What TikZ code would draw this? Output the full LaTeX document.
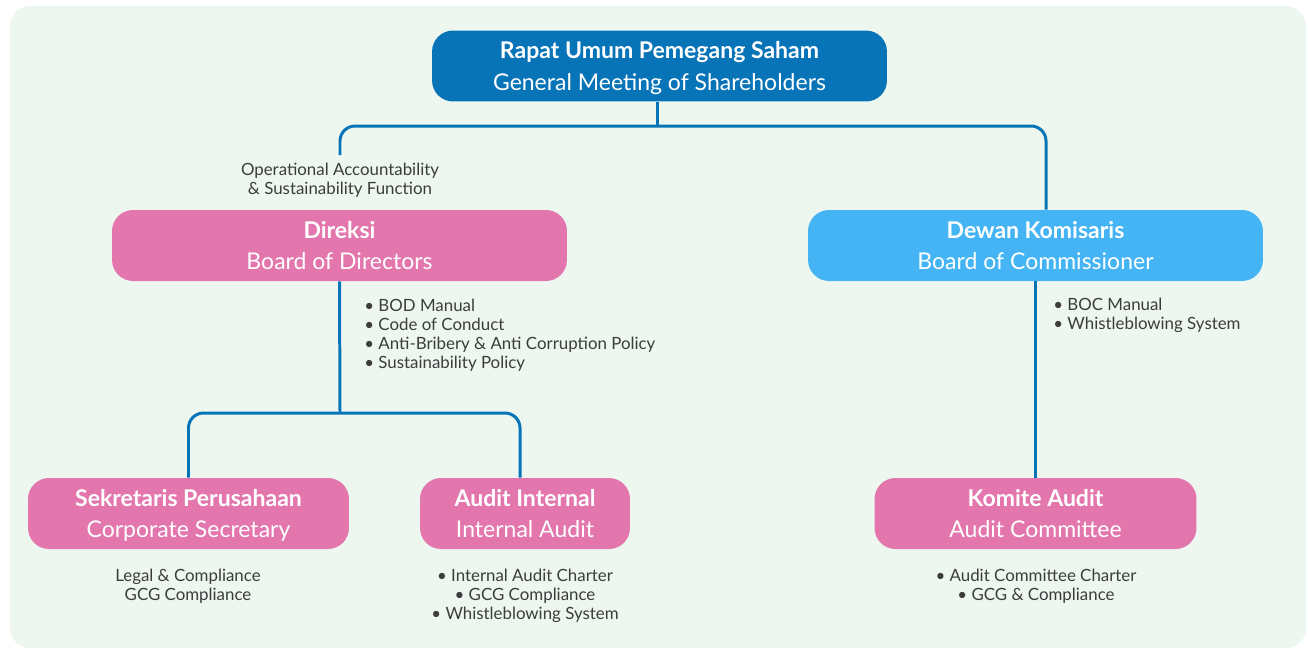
\documentclass[tikz,border=0pt]{standalone}
\usepackage{fontspec}
\setmainfont{Lato}
\usetikzlibrary{positioning,calc}
\definecolor{mintBg}{RGB}{237,247,240}
\definecolor{biruTua}{RGB}{8,116,184}
\definecolor{biruMuda}{RGB}{68,180,245}
\definecolor{pinkBox}{RGB}{227,119,173}
\definecolor{abuTeks}{RGB}{60,60,60}

\begin{document}
\begin{tikzpicture}[x=0.02cm,y=-0.02cm,
  kotak/.style={rectangle,rounded corners=0.42cm,minimum height=1.42cm,align=center,
                text=white,text depth=0pt,font=\fontsize{13.1}{18}\selectfont},
  conn/.style={biruTua,line width=1.7pt},
  ket/.style={font=\fontsize{9.6}{10.8}\selectfont,text=abuTeks,inner sep=0pt}]

  % Background
  \useasboundingbox (0,0) rectangle (1308,650);
  \fill[white] (0,0) rectangle (1308,650);
  \fill[mintBg,rounded corners=0.4cm] (10,6) rectangle (1306,648);

  \node[kotak,fill=biruTua,minimum width=9.1cm] (rups) at (659.5,66)
    {\textbf{Rapat Umum Pemegang Saham}\\General Meeting of Shareholders};
  \node[kotak,fill=pinkBox,minimum width=9.1cm] (direksi) at (339.5,245.5)
    {\textbf{Direksi}\\Board of Directors};
  \node[kotak,fill=biruMuda,minimum width=9.1cm] (dewan) at (1035.5,245.5)
    {\textbf{Dewan Komisaris}\\Board of Commissioner};
  \node[kotak,fill=pinkBox,minimum width=6.42cm] (sekre) at (188.5,513.5)
    {\textbf{Sekretaris Perusahaan}\\Corporate Secretary};
  \node[kotak,fill=pinkBox,minimum width=4.2cm] (audit) at (525,513.5)
    {\textbf{Audit Internal}\\Internal Audit};
  \node[kotak,fill=pinkBox,minimum width=6.44cm] (komite) at (1035.5,513.5)
    {\textbf{Komite Audit}\\Audit Committee};

  % Keterangan
  \node[ket,align=center] (opsKet) at (340,180)
    {Operational Accountability\\\& Sustainability Function};
  \node[ket,align=left,anchor=west] (dirKet) at (364,335)
    {• BOD Manual\\• Code of Conduct\\• Anti-Bribery \& Anti Corruption Policy\\• Sustainability Policy};
  \node[ket,align=left,anchor=west] (dewanKet) at (1053,315.5)
    {• BOC Manual\\• Whistleblowing System};
  \node[ket,align=center] (sekreKet) at (188,586.5)
    {Legal \& Compliance\\GCG Compliance};
  \node[ket,align=center] (auditKet) at (525,596)
    {• Internal Audit Charter\\• GCG Compliance\\• Whistleblowing System};
  \node[ket,align=center] (komiteKet) at (1036,586.5)
    {• Audit Committee Charter\\• GCG \& Compliance};

  % Connectors
  \coordinate (rupsHub) at (657,126);
  \coordinate (opsTop) at (340,155);
  \coordinate (dirHub) at (340,413);
  \draw[conn] (rupsHub |- rups.south) -- (rupsHub);
  \draw[conn,rounded corners=0.3cm] (opsTop) |- (rupsHub) -| ([xshift=0.21cm]dewan.north);
  \draw[conn] (direksi.south) -- (dirHub);
  \draw[conn,rounded corners=0.3cm] (sekre.north) |- (dirHub) -| ([xshift=-0.1cm]audit.north);
  \draw[conn] (dewan.south) -- (komite.north);
\end{tikzpicture}
\end{document}
